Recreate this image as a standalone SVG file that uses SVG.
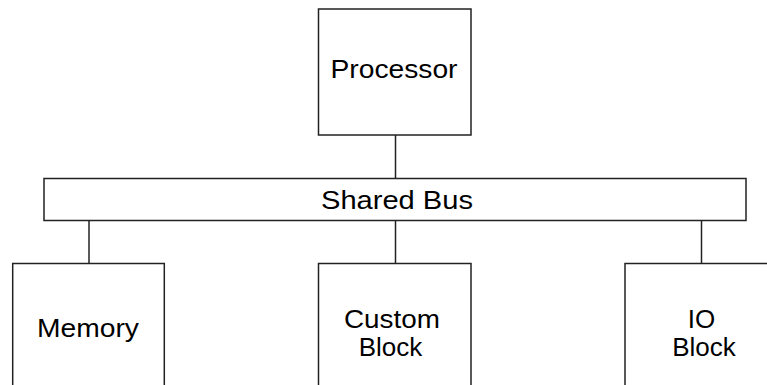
<svg xmlns="http://www.w3.org/2000/svg" width="767" height="385" viewBox="0 0 767 385">
<style>
.box{fill:#fff;stroke:#222;stroke-width:1.5}
.lbl{font-family:"Liberation Sans",Arial,sans-serif;font-size:26px;fill:#000;text-anchor:middle}
.conn{stroke:#222;stroke-width:1.5;fill:none}
</style>
<rect width="767" height="385" fill="#fff"/>
<g id="connectors">
<line class="conn" x1="395.5" y1="135" x2="395.5" y2="178.5"/>
<line class="conn" x1="89" y1="220.5" x2="89" y2="263.5"/>
<line class="conn" x1="395.5" y1="220.5" x2="395.5" y2="263.5"/>
<line class="conn" x1="701.5" y1="220.5" x2="701.5" y2="263.5"/>
</g>
<g id="processor">
<rect class="box" x="318.5" y="9" width="152.5" height="126"/>
<text class="lbl" x="394" y="77.5" textLength="127" lengthAdjust="spacingAndGlyphs">Processor</text>
</g>
<g id="bus">
<rect class="box" x="44" y="178.5" width="702" height="42"/>
<text class="lbl" x="397" y="209" textLength="152" lengthAdjust="spacingAndGlyphs">Shared Bus</text>
</g>
<g id="memory">
<rect class="box" x="12.7" y="263.5" width="151.6" height="140"/>
<text class="lbl" x="88" y="337" textLength="102" lengthAdjust="spacingAndGlyphs">Memory</text>
</g>
<g id="custom">
<rect class="box" x="318.5" y="263.5" width="152.5" height="140"/>
<text class="lbl" x="392" y="327.5" textLength="96" lengthAdjust="spacingAndGlyphs">Custom</text>
<text class="lbl" x="390.5" y="355.5">Block</text>
</g>
<g id="io">
<rect class="box" x="625" y="263.5" width="152.5" height="140"/>
<text class="lbl" x="701.5" y="328">IO</text>
<text class="lbl" x="704" y="355.5">Block</text>
</g>
</svg>
